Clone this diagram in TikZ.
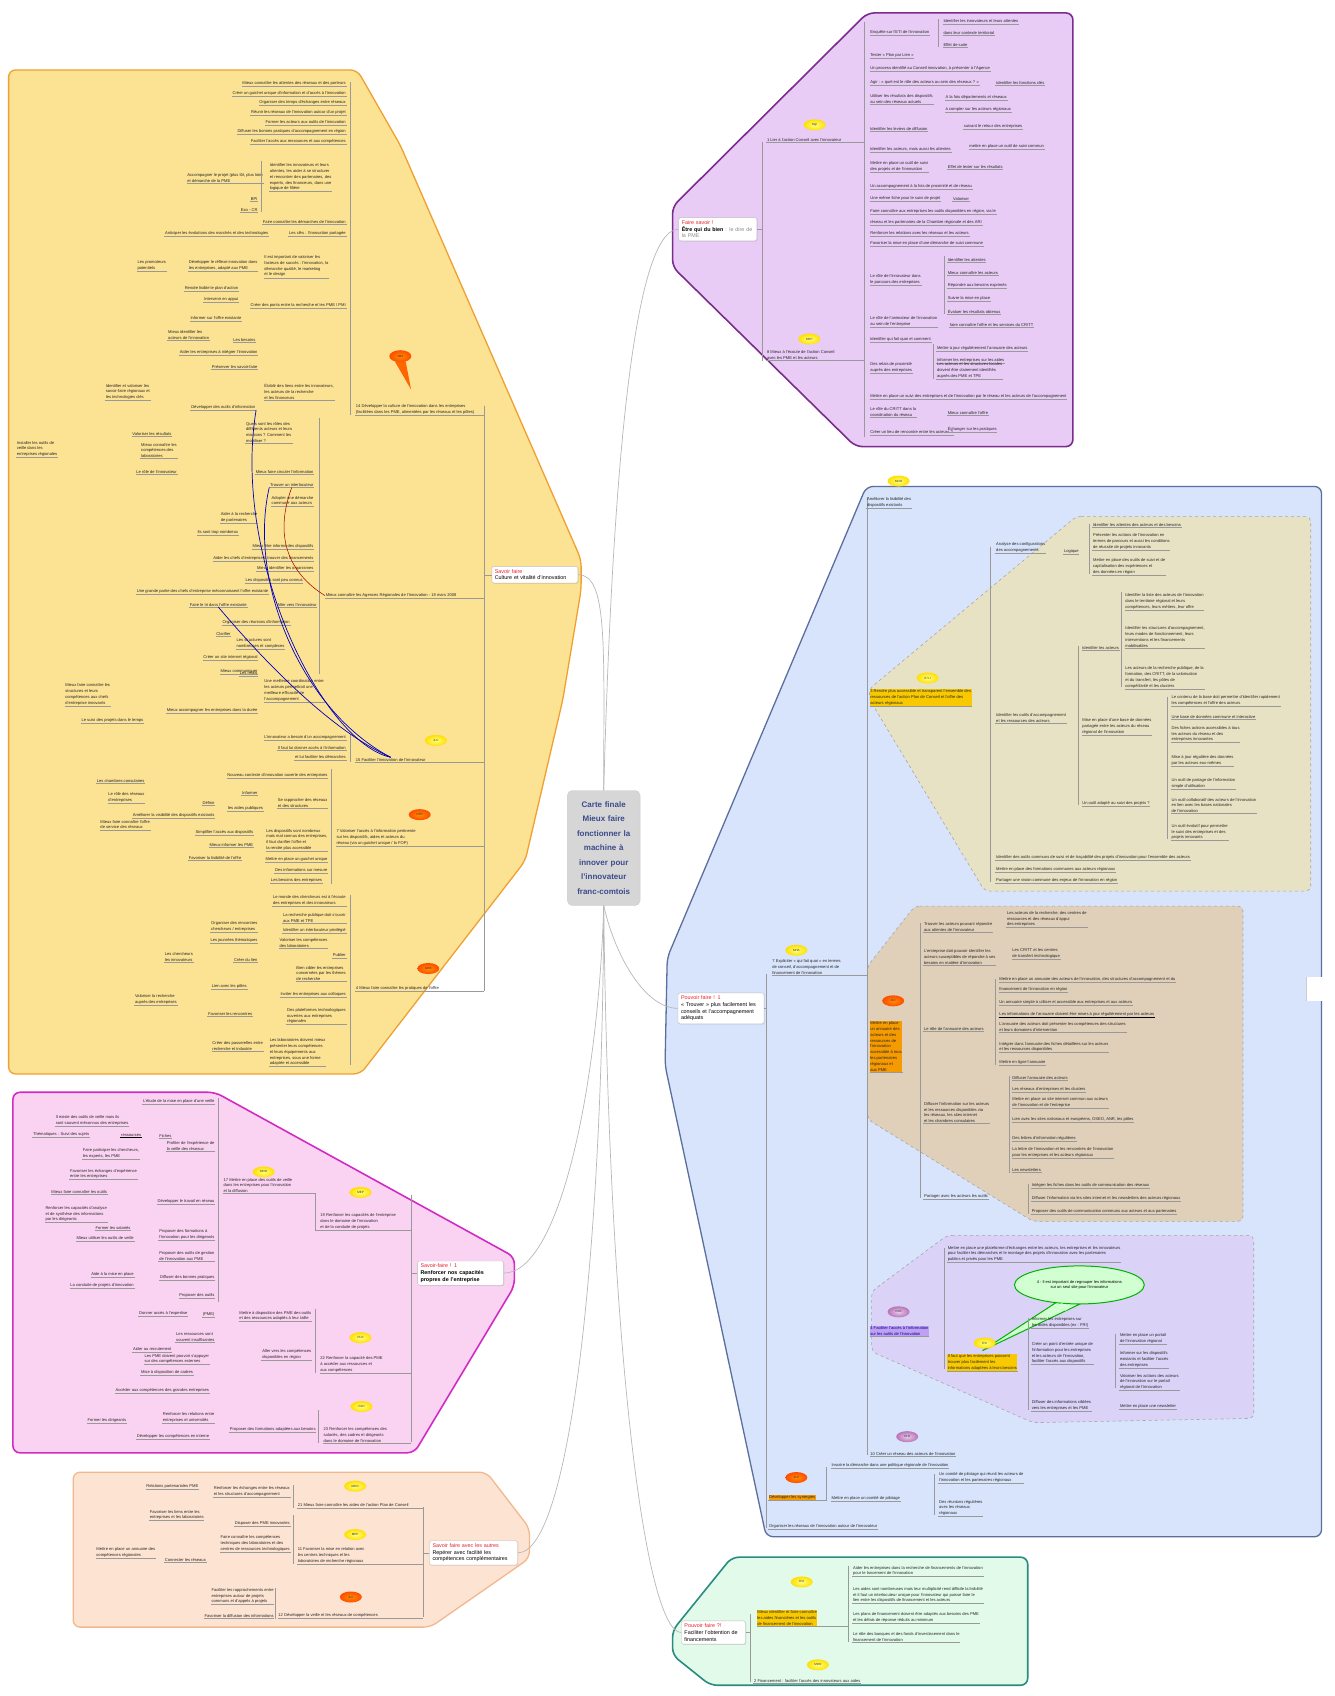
\documentclass[tikz,border=0pt]{standalone}
\usepackage{fontspec}
\setmainfont{Liberation Sans}
\usetikzlibrary{shapes.geometric,shadows}
\definecolor{yfill}{HTML}{FCE293}
\definecolor{yline}{HTML}{F0A030}
\definecolor{pfill}{HTML}{E8CCF6}
\definecolor{pline}{HTML}{7B2C8C}
\definecolor{bfill}{HTML}{D8E4FB}
\definecolor{bline}{HTML}{5B6E9E}
\definecolor{tanfill}{HTML}{E8E2C4}
\definecolor{brfill}{HTML}{E0D0BA}
\definecolor{lavfill}{HTML}{DAD2F7}
\definecolor{pkfill}{HTML}{FBD3F2}
\definecolor{pkline}{HTML}{D22BC4}
\definecolor{pcfill}{HTML}{FDE3D2}
\definecolor{pcline}{HTML}{F2B88C}
\definecolor{gfill}{HTML}{E2FAEA}
\definecolor{gline}{HTML}{2A8C80}
\definecolor{titlered}{HTML}{E8202A}
\definecolor{ctext}{HTML}{3B4B8B}
\definecolor{hlyel}{HTML}{F8C800}
\definecolor{hlora}{HTML}{F59A00}
\definecolor{hlpur}{HTML}{C0A0F0}
\newcounter{lfc}
\newcommand\lfr[4][]{\stepcounter{lfc}\node[leaf,anchor=south west,#1] (lf\arabic{lfc}) at (#2,#3) {#4};}
\newcommand\lfl[4][]{\stepcounter{lfc}\node[leaf,anchor=south east,#1] (lf\arabic{lfc}) at (#2,#3) {#4};}
\newcommand\sub[5][]{\node[leaf,anchor=south west,#1] (#2) at (#3,#4) {#5};}
\newcommand\ttl[1]{\textcolor{titlered}{#1}}
\tikzset{
  uline/.style={draw=black!40,line width=0.3pt},
  leaf/.style={font=\fontsize{4.1}{5.8}\selectfont,text=black!85,inner sep=0.6pt,align=left,
     append after command={(\tikzlastnode.south west) edge[uline] (\tikzlastnode.south east)}},
  tree/.style={draw=black!40,line width=0.3pt},
  conn/.style={draw=black!28,line width=0.7pt},
  rel/.style={draw=blue!75!black,line width=0.7pt},
  region/.style={line width=1.3pt,rounded corners=7pt},
  subreg/.style={draw=black!35,dashed,line width=0.6pt,rounded corners=5pt},
  bub/.style={ellipse,inner sep=0pt,minimum width=22,minimum height=11,font=\fontsize{3}{3}\selectfont,text=black!80},
  byel/.style={bub,inner color=yellow!50!white,outer color=yellow!75!orange},
  bora/.style={bub,inner color=orange!90!yellow,outer color=orange!60!red},
  bpur/.style={bub,inner color=violet!20,outer color=violet!55},
  mainbox/.style={draw=black!25,fill=white,rounded corners=2pt,inner sep=3pt,align=left,
     font=\fontsize{5.4}{6.6}\selectfont,text width=#1,drop shadow={opacity=0.2,shadow xshift=0.8pt,shadow yshift=-0.8pt}},
}
\begin{document}
\begin{tikzpicture}[x=1.076pt,y=-1.076pt]
\useasboundingbox (0,0) rectangle (1240,1576);
\fill[white] (0,0) rectangle (1240,1576);
% ---------- regions
\draw[region,draw=yline,fill=yfill] (8,65) -- (332,65) -- (372,135) -- (540,520) -- (540,548) -- (523,650) -- (488,800) -- (335,998) -- (8,998) -- cycle;
\draw[region,draw=pline,fill=pfill,line width=1.6pt] (806,12) -- (997,12) -- (997,415) -- (795,415) -- (625,248) -- (625,192) -- cycle;
\draw[region,draw=bline,fill=bfill] (805,452) -- (1228,452) -- (1228,1428) -- (712,1428) -- (618,990) -- (620,890) -- cycle;
\draw[subreg,fill=tanfill] (1000,480) -- (1218,480) -- (1218,828) -- (915,828) -- (808,650) -- (808,640) -- cycle;
\draw[subreg,fill=brfill] (850,842) -- (1155,842) -- (1155,1135) -- (960,1135) -- (806,1040) -- (806,898) -- cycle;
\draw[subreg,fill=lavfill] (880,1148) -- (1165,1148) -- (1165,1318) -- (960,1322) -- (810,1256) -- (810,1200) -- cycle;
\draw[region,draw=pkline,fill=pkfill,line width=1.6pt] (12,1015) -- (200,1015) -- (478,1168) -- (478,1195) -- (385,1350) -- (12,1350) -- cycle;
\draw[region,draw=pcline,fill=pcfill] (68,1368) -- (452,1368) -- (492,1420) -- (492,1448) -- (400,1512) -- (68,1512) -- cycle;
\draw[region,draw=gline,fill=gfill,line width=1.6pt] (680,1447) -- (955,1447) -- (955,1566) -- (660,1566) -- (625,1538) -- (625,1515) -- cycle;
\fill[white] (1214,908) rectangle (1240,930);
\draw[black!20] (1214,908) -- (1214,930);

% ================= YELLOW =================
\draw[tree] (450,377) -- (450,921);
\draw[tree] (325,76) -- (325,386);
\sub{s14}{330}{386}{14 Développer la culture de l'innovation dans les entreprises\\(facilitées dans les PME, alimentées par les réseaux et les pôles)}
\fill[orange!80!red] (367,336) -- (377,336) -- (382,362) -- cycle;
\node[bora,minimum width=22,minimum height=12] (b14) at (372,331) {JMA};
\lfl{322}{80}{Mieux connaître les attentes des réseaux et des porteurs}
\lfl{322}{89}{Créer un guichet unique d'information et d'accès à l'innovation}
\lfl{322}{98}{Organiser des temps d'échanges entre réseaux}
\lfl{322}{107}{Réunir les réseaux de l'innovation autour d'un projet}
\lfl{322}{116}{Former les acteurs aux outils de l'innovation}
\lfl{322}{125}{Diffuser les bonnes pratiques d'accompagnement en région}
\lfl{322}{134}{Faciliter l'accès aux ressources et aux compétences}
\lfr{250}{178}{Identifier les innovateurs et leurs\\attentes, les aider à se structurer\\et rencontrer des partenaires, des\\experts, des financeurs, dans une\\logique de filière}
\lfl{245}{170}{Accompagner le projet (plus tôt, plus loin)\\et démarche de la PME}
\draw[tree] (243,150) -- (243,197);
\lfl{240}{187}{BPI}
\lfl{240}{197}{Exo - CR}
\lfl{322}{208}{Faire connaître les démarches de l'innovation}
\lfl{250}{219}{Anticiper les évolutions des marchés et des technologies}
\lfl{322}{219}{Les clés : l'innovation partagée}
\lfr{245}{258}{Il est important de valoriser les\\facteurs de succès : l'innovation, la\\démarche qualité, le marketing\\et le design}
\lfl{240}{252}{Développer le réflexe innovation dans\\les entreprises, adapté aux PME}
\lfl{155}{252}{Les promoteurs\\potentiels}
\lfl{222}{271}{Rendre lisible le plan d'action}
\lfl{222}{281}{Intervenir en appui}
\lfl{322}{286}{Créer des ponts entre la recherche et les PME / PMI}
\lfl{225}{298}{Informer sur l'offre existante}
\lfl{195}{316}{Mieux identifier les\\acteurs de l'innovation}
\lfl{238}{318}{Les besoins}
\lfl{240}{330}{Aider les entreprises à intégrer l'innovation}
\lfl{240}{343}{Préserver les savoir-faire}
\lfr{245}{372}{Établir des liens entre les innovateurs,\\les acteurs de la recherche\\et les financeurs}
\lfl[alias=tA]{238}{381}{Développer des outils d'information}
\lfl{140}{372}{Identifier et valoriser les\\savoir-faire régionaux et\\les technologies clés}
\lfr{15}{425}{Installer les outils de\\veille dans les\\entreprises régionales}
\lfl{160}{405}{Valoriser les résultats}
\lfl{165}{426}{Mieux connaître les\\compétences des\\laboratoires}
% Agences
\draw[tree] (297,388) -- (297,626);
\sub{sAg}{302}{556}{Mieux connaître les Agences Régionales de l'Innovation - 18 mars 2008}
\draw[tree] (sAg.south east) -- (450,556);
\lfr{228}{412}{Quels sont les rôles des\\différents acteurs et leurs\\missions ? Comment les\\mobiliser ?}
\lfl{292}{441}{Mieux faire circuler l'information}
\lfl[alias=tB]{292}{453}{Trouver un interlocuteur}
\lfl{292}{470}{Adopter une démarche\\commune aux acteurs}
\lfl{165}{441}{Le rôle de l'innovateur}
\lfl{240}{486}{Aider à la recherche\\de partenaires}
\lfl{222}{497}{Ils sont trop nombreux}
\lfl{292}{510}{Mieux être informé des dispositifs}
\lfl{292}{521}{Aider les chefs d'entreprise à trouver des financements}
\lfl{292}{531}{Mieux identifier les organismes}
\lfl{282}{542}{Les dispositifs sont peu connus}
\lfl{250}{552}{Une grande partie des chefs d'entreprise méconnaissent l'offre existante}
\lfl[alias=tC]{230}{564}{Faire le tri dans l'offre existante}
\lfl{295}{564}{Aller vers l'innovateur}
\lfl{270}{581}{Organiser des réunions d'information}
\lfl{215}{591}{Clarifier}
\lfl{265}{603}{Les structures sont\\nombreuses et complexes}
\lfl{240}{613}{Créer un site internet régional}
\lfl{240}{626}{Mieux communiquer}
% 15
\sub{s15}{330}{708}{15 Faciliter l'innovation de l'innovateur}
\node[byel] (b15) at (405,688) {JLC};
\draw[tree] (325,682) -- (325,708);
\lfl{322}{688}{L'innovateur a besoin d'un accompagnement}
\lfl{322}{697}{Il faut lui donner accès à l'information}
\lfl{322}{706}{et lui faciliter les démarches}
\lfr{245}{652}{Une meilleure coordination entre\\les acteurs permettrait une\\meilleure efficacité de\\l'accompagnement}
\lfl{240}{628}{Les relais}
\lfr{60}{656}{Mieux faire connaître les\\structures et leurs\\compétences aux chefs\\d'entreprise innovants}
\lfl{240}{663}{Mieux accompagner les entreprises dans la durée}
\lfr{75}{672}{Le suivi des projets dans le temps}
% 7
\sub{s7}{312}{786}{7 Valoriser l'accès à l'information pertinente\\sur les dispositifs, aides et acteurs du\\réseau (via un guichet unique / la FOP)}
\node[bora] (b7) at (390,757) {PAR};
\draw[tree] (308,715) -- (308,821);
\lfl{305}{723}{Nouveau contexte d'innovation ouverte des entreprises}
\lfl{240}{739}{Informer}
\lfl{305}{751}{Se rapprocher des réseaux\\et des structures}
\lfl{200}{748}{Définir}
\lfl{245}{754}{les aides publiques}
\lfl{200}{760}{Améliorer la visibilité des dispositifs existants}
\lfl{305}{791}{Les dispositifs sont nombreux\\mais mal connus des entreprises,\\il faut clarifier l'offre et\\la rendre plus accessible}
\lfl{236}{776}{Simplifier l'accès aux dispositifs}
\lfl{236}{787}{Mieux informer les PME}
\lfl{225}{799}{Favoriser la lisibilité de l'offre}
\lfl{305}{801}{Mettre en place un guichet unique}
\lfl{305}{811}{Des informations sur mesure}
\lfl{300}{821}{Les besoins des entreprises}
\lfl{135}{728}{Les chambres consulaires}
\lfl{135}{746}{Le rôle des réseaux\\d'entreprises}
\lfl{140}{771}{Mieux faire connaître l'offre\\de service des réseaux}
% 4
\sub{s4}{330}{921}{4 Mieux faire connaître les pratiques de l'offre}
\node[bora] (b4) at (398,900) {GRE};
\draw[tree] (325,832) -- (325,990);
\lfl{322}{842}{Le monde des chercheurs est à l'écoute\\des entreprises et des innovateurs}
\lfl{322}{858}{La recherche publique doit s'ouvrir\\aux PME et TPE}
\lfl{322}{867}{Identifier un interlocuteur privilégié}
\lfl{305}{881}{Valoriser les compétences\\des laboratoires}
\lfl{240}{866}{Organiser des rencontres\\chercheurs / entreprises}
\lfl{240}{876}{Les journées thématiques}
\lfl{322}{890}{Publier}
\lfl{180}{894}{Les chercheurs\\les innovateurs}
\lfl{240}{894}{Créer du lien}
\lfl{322}{912}{Bien cibler les entreprises\\concernées par les thèmes\\de recherche}
\lfl{230}{919}{Lien avec les pôles}
\lfl{322}{927}{Inviter les entreprises aux colloques}
\lfl{165}{934}{Valoriser la recherche\\auprès des entreprises}
\lfl{235}{944}{Favoriser les rencontres}
\lfl{322}{952}{Des plateformes technologiques\\ouvertes aux entreprises\\régionales}
\lfl{245}{977}{Créer des passerelles entre\\recherche et industrie}
\lfr{250}{991}{Les laboratoires doivent mieux\\présenter leurs compétences\\et leurs équipements aux\\entreprises, sous une forme\\adaptée et accessible}
\foreach \n/\y in {s14/386,s15/708,s7/786,s4/921} \draw[tree] (\n.south east) -- (450,\y);
% relation curves
\draw[rel] (s15.north) .. controls (300,690) and (215,520) .. (tA.south east);
\draw[rel] (s15.north) .. controls (280,660) and (230,540) .. (tB.south west);
\draw[rel] (s15.north) .. controls (310,680) and (250,620) .. (tC.south);
\draw[draw=red!60!black,line width=0.5pt] (tB.south) .. controls (250,510) and (280,540) .. (sAg.west);

% ================= PURPLE =================
\draw[tree] (708,132) -- (708,335);
\draw[tree] (803,20) -- (803,406);
\sub{pA}{712}{132}{1 Lier à l'action Conseil avec l'innovateur}
\node[byel] (bpA) at (757,116) {MgI};
\sub{pB}{712}{335}{8 Mieux à l'écoute de l'action Conseil\\avec les PME et les acteurs}
\node[byel] (bpB) at (752,315) {MEP};
\draw[tree] (pA.south east) -- (803,132);
\draw[tree] (pB.south east) -- (803,335);
\draw[tree] (872,18) -- (872,44);
\lfr{808}{33}{Enquête sur l'ETI de l'innovation}
\lfr{876}{22}{Identifier les innovateurs et leurs attentes}
\lfr{876}{33}{dans leur contexte territorial}
\lfr{876}{44}{Effet de suite}
\lfr{808}{54}{Tester « Plan par Lien »}
\lfr{808}{66}{Un process identifié au Conseil innovation, à présenter à l'Agence}
\lfr{808}{79}{Agir : « quel est le rôle des acteurs au sein des réseaux ? »}
\lfr{925}{79}{Identifier les fonctions clés}
\lfr{808}{97}{Utiliser les résultats des dispositifs\\au sein des réseaux actuels}
\lfr{878}{93}{A la fois départements et réseaux}
\lfr{878}{104}{à compter sur les acteurs régionaux}
\lfr{808}{122}{Identifier les leviers de diffusion}
\lfr{895}{120}{suivant le retour des entreprises}
\lfr{808}{141}{Identifier les acteurs, mais aussi les attentes}
\lfr{900}{139}{mettre en place un outil de suivi commun}
\lfr{808}{160}{Mettre en place un outil de suivi\\des projets et de l'innovation}
\lfr{880}{157}{Effet de levier sur les résultats}
\lfr{808}{176}{Un accompagnement à la fois de proximité et de réseau}
\lfr{808}{187}{Une même fiche pour le suivi de projet}
\lfr{885}{187}{Valoriser}
\lfr{808}{199}{Faire connaître aux entreprises les outils disponibles en région, via le}
\lfr{808}{209}{réseau et les partenaires de la Chambre régionale et des ARI}
\lfr{808}{219}{Renforcer les relations avec les réseaux et les acteurs}
\lfr{808}{229}{Favoriser la mise en place d'une démarche de suivi commune}
\draw[tree] (877,238) -- (877,292);
\lfr{808}{265}{Le rôle de l'innovateur dans\\le parcours des entreprises}
\lfr{880}{244}{Identifier les attentes}
\lfr{880}{256}{Mieux connaître les acteurs}
\lfr{880}{268}{Répondre aux besoins exprimés}
\lfr{880}{280}{Suivre la mise en place}
\lfr{880}{292}{Évaluer les résultats obtenus}
\lfr{808}{304}{Le rôle de l'animateur de l'innovation\\au sein de l'entreprise}
\lfr{882}{304}{faire connaître l'offre et les services du CRITT}
\lfr{808}{318}{Identifier qui fait quoi et comment}
\draw[tree] (867,320) -- (867,352);
\lfr{808}{347}{Des relais de proximité\\auprès des entreprises}
\lfr{870}{326}{Mettre à jour régulièrement l'annuaire des acteurs}
\lfr{870}{337}{Informer les entreprises sur les aides}
\lfr{870}{352}{Les acteurs et les structures locales\\doivent être clairement identifiés\\auprès des PME et TPE}
\lfr{808}{371}{Mettre en place un suivi des entreprises et de l'innovation par le réseau et les acteurs de l'accompagnement}
\lfr{808}{388}{Le rôle du CRITT dans la\\coordination du réseau}
\lfr{880}{386}{Mieux connaître l'offre}
\lfr{808}{404}{Créer un lieu de rencontre entre les acteurs ?}
\lfr{880}{402}{Échanger sur les pratiques}

% ================= BLUE =================
\draw[tree] (806,462) -- (806,1352);
\draw[tree] (712,905) -- (712,1420);
\sub{bA}{805}{472}{Améliorer la lisibilité des\\dispositifs existants}
\node[byel] (bbA) at (835,447) {MDO};
\sub{bX}{717}{906}{7 Expliciter « qui fait quoi » en termes\\de conseil, d'accompagnement et de\\financement de l'innovation}
\node[byel] (bbX) at (740,883) {MHA};
\draw[tree] (bX.south east) -- (806,906);
% tan
\sub[fill=hlyel]{bT}{808}{656}{3 Rendre plus accessible et transparent l'ensemble des\\ressources de l'action Plan de Conseil et l'offre des\\acteurs régionaux}
\node[byel] (bbT) at (862,630) {E.V.I};
\draw[tree] (920,508) -- (920,820);
\draw[tree] (1012,487) -- (1012,533);
\lfr{925}{514}{Analyse des configurations\\des accompagnements}
\lfr{988}{515}{Logique}
\lfr{1015}{490}{Identifier les attentes des acteurs et des besoins}
\lfr{1015}{511}{Présenter les actions de l'innovation en\\termes de parcours et aussi les conditions\\de réussite de projets innovants}
\lfr{1015}{534}{Mettre en place des outils de suivi et de\\capitalisation des expériences et\\des données en région}
\draw[tree] (1002,600) -- (1002,748);
\lfr{925}{672}{Identifier les outils d'accompagnement\\et les ressources des acteurs}
\lfr{1005}{604}{Identifier les acteurs}
\draw[tree] (1042,550) -- (1042,638);
\lfr{1045}{567}{Identifier la liste des acteurs de l'innovation\\dans le territoire régional et leurs\\compétences, leurs métiers, leur offre}
\lfr{1045}{602}{Identifier les structures d'accompagnement,\\leurs modes de fonctionnement, leurs\\interventions et les financements\\mobilisables}
\lfr{1045}{640}{Les acteurs de la recherche publique, de la\\formation, des CRITT, de la valorisation\\et du transfert, les pôles de\\compétitivité et les clusters}
\lfr{1005}{683}{Mise en place d'une base de données\\partagée entre les acteurs du réseau\\régional de l'innovation}
\draw[tree] (1085,648) -- (1085,780);
\lfr{1088}{656}{Le contenu de la base doit permettre d'identifier rapidement\\les compétences et l'offre des acteurs}
\lfr{1088}{668}{Une base de données commune et interactive}
\lfr{1088}{690}{Des fiches actions accessibles à tous\\les acteurs du réseau et des\\entreprises innovantes}
\lfr{1088}{712}{Mise à jour régulière des données\\par les acteurs eux-mêmes}
\lfr{1088}{733}{Un outil de partage de l'information\\simple d'utilisation}
\lfr{1088}{756}{Un outil collaboratif des acteurs de l'innovation\\en lien avec les bases nationales\\de l'innovation}
\lfr{1088}{781}{Un outil évolutif pour permettre\\le suivi des entreprises et des\\projets innovants}
\lfr{1005}{749}{Un outil adapté au suivi des projets ?}
\lfr{925}{799}{Identifier des outils communs de suivi et de traçabilité des projets d'innovation pour l'ensemble des acteurs}
\lfr{925}{810}{Mettre en place des formations communes aux acteurs régionaux}
\lfr{925}{821}{Partager une vision commune des enjeux de l'innovation en région}
% brown
\sub[fill=hlora]{bB}{808}{996}{Mettre en place\\un annuaire des\\acteurs et des\\ressources de\\l'innovation\\accessible à tous\\les partenaires\\régionaux et\\aux PME}
\node[bora] (bbB) at (830,930) {JLC};
\draw[tree] (855,858) -- (855,1113);
\lfr{858}{866}{Trouver les acteurs pouvant répondre\\aux attentes de l'innovateur}
\lfr{935}{862}{Les acteurs de la recherche, des centres de\\ressources et des réseaux d'appui\\des entreprises}
\lfr{858}{897}{L'entreprise doit pouvoir identifier les\\acteurs susceptibles de répondre à ses\\besoins en matière d'innovation}
\lfr{940}{891}{Les CRITT et les centres\\de transfert technologique}
\lfr{858}{958}{Le rôle de l'annuaire des acteurs}
\draw[tree] (925,910) -- (925,990);
\lfr{928}{913}{Mettre en place un annuaire des acteurs de l'innovation, des structures d'accompagnement et du}
\lfr{928}{922}{financement de l'innovation en région}
\lfr{928}{934}{Un annuaire simple à utiliser et accessible aux entreprises et aux acteurs}
\lfr[append after command={(\tikzlastnode.south west) edge[draw=black,line width=0.7pt] (\tikzlastnode.south east)}]{928}{945}{Les informations de l'annuaire doivent être mises à jour régulièrement par les acteurs}
\lfr{928}{959}{L'annuaire des acteurs doit présenter les compétences des structures\\et leurs domaines d'intervention}
\lfr{928}{978}{Intégrer dans l'annuaire des fiches détaillées sur les acteurs\\et les ressources disponibles}
\lfr{928}{990}{Mettre en ligne l'annuaire}
\lfr{858}{1044}{Diffuser l'information sur les acteurs\\et les ressources disponibles via\\les réseaux, les sites internet\\et les chambres consulaires}
\draw[tree] (938,1000) -- (938,1090);
\lfr{940}{1004}{Diffuser l'annuaire des acteurs}
\lfr{940}{1015}{Les réseaux d'entreprises et les clusters}
\lfr{940}{1030}{Mettre en place un site internet commun aux acteurs\\de l'innovation et de l'entreprise}
\lfr{940}{1043}{Lien avec les sites nationaux et européens, OSEO, ANR, les pôles}
\lfr{940}{1060}{Des lettres d'information régulières}
\lfr{940}{1076}{La lettre de l'innovation et les rencontres de l'innovation\\pour les entreprises et les acteurs régionaux}
\lfr{940}{1089}{Les newsletters}
\lfr{858}{1114}{Partager avec les acteurs les outils}
\draw[tree] (955,1100) -- (955,1128);
\lfr{958}{1104}{Intégrer les fiches dans les outils de communication des réseaux}
\lfr{958}{1116}{Diffuser l'information via les sites internet et les newsletters des acteurs régionaux}
\lfr{958}{1128}{Proposer des outils de communication communs aux acteurs et aux partenaires}
% lavender
\sub[fill=hlpur,text=blue!60!black]{bL}{808}{1242}{4 Faciliter l'accès à l'information\\sur les outils de l'innovation}
\node[bpur] (bbL) at (835,1219) {DLB};
\draw[tree] (877,1160) -- (877,1272);
\lfr{880}{1173}{Mettre en place une plateforme d'échanges entre les acteurs, les entreprises et les innovateurs\\pour faciliter les démarches et le montage des projets d'innovation avec les partenaires\\publics et privés pour les PME}
\draw[draw=green!70!black,fill=green!18,line width=1pt] (985,1208) -- (913,1255) -- (1003,1212) -- cycle;
\node[ellipse,draw=green!70!black,fill=green!18,line width=1pt,minimum width=120pt,minimum height=38pt,align=center,font=\fontsize{4}{5}\selectfont] (gc) at (1003,1194) {4 - Il est important de regrouper les informations\\sur un seul site pour l'innovateur};
\fill[green!18] (986,1211) -- (996,1214) -- (990,1218) -- cycle;
\sub[fill=hlyel]{bY}{880}{1274}{Il faut que les entreprises puissent\\trouver plus facilement les\\informations adaptées à leurs besoins}
\node[byel] (bbY) at (915,1248) {EVI};
\draw[tree] (955,1225) -- (955,1310);
\lfr{958}{1234}{Informer les entreprises sur\\les aides disponibles (ex : FRI)}
\lfr{958}{1268}{Créer un point d'entrée unique de\\l'information pour les entreprises\\et les acteurs de l'innovation,\\faciliter l'accès aux dispositifs}
\draw[tree] (1036,1240) -- (1036,1290);
\lfr{1040}{1249}{Mettre en place un portail\\de l'innovation régional}
\lfr{1040}{1271}{Informer sur les dispositifs\\existants et faciliter l'accès\\des entreprises}
\lfr{1040}{1292}{Valoriser les actions des acteurs\\de l'innovation sur le portail\\régional de l'innovation}
\lfr{958}{1311}{Diffuser des informations ciblées\\vers les entreprises et les PME}
\lfr{1040}{1309}{Mettre en place une newsletter}
% 10
\sub{b10}{808}{1353}{10 Créer un réseau des acteurs de l'innovation}
\node[bpur] (bb10) at (843,1335) {DLB};
% orange
\sub[fill=hlora]{bO}{714}{1394}{Développer les synergies}
\node[bora] (bbO) at (740,1373) {JLC};
\draw[tree] (768,1363) -- (768,1395);
\draw[tree] (bO.south east) -- (768,1394);
\lfr{772}{1364}{Inscrire la démarche dans une politique régionale de l'innovation}
\lfr{772}{1395}{Mettre en place un comité de pilotage}
\draw[tree] (868,1370) -- (868,1408);
\lfr{872}{1378}{Un comité de pilotage qui réunit les acteurs de\\l'innovation et les partenaires régionaux}
\lfr{872}{1409}{Des réunions régulières\\avec les réseaux\\régionaux}
\sub{bZ}{714}{1421}{Organiser les réseaux de l'innovation autour de l'innovateur}

% ================= PINK =================
\draw[tree] (382,1110) -- (382,1340);
\sub{k19}{297}{1143}{19 Renforcer les capacités de l'entreprise\\dans le domaine de l'innovation\\et de la conduite de projets}
\node[byel] (bk19) at (335,1108) {MEP};
\sub{k17}{207}{1109}{17 Mettre en place des outils de veille\\dans les entreprises pour l'innovation\\et la diffusion}
\node[byel] (bk17) at (245,1089) {MDO};
\draw[tree] (k17.south east) -- (293,1109) -- (293,1143) -- (k19.south west);
\sub{k22}{297}{1276}{22 Renforcer la capacité des PME\\à accéder aux ressources et\\aux compétences}
\node[byel] (bk22) at (335,1243) {PLD};
\sub{k23}{300}{1341}{23 Renforcer les compétences des\\salariés, des cadres et dirigeants\\dans le domaine de l'innovation}
\node[byel] (bk23) at (336,1307) {DLH};
\foreach \n/\y in {k19/1143,k22/1276,k23/1341} \draw[tree] (\n.south east) -- (382,\y);
\draw[tree] (203,1020) -- (203,1210);
\lfl{200}{1026}{L'étude de la mise en place d'une veille}
\lfl{120}{1046}{Il existe des outils de veille mais ils\\sont souvent méconnus des entreprises}
\lfr{30}{1057}{Thématiques : Suivi des sujets}
\lfl[append after command={(\tikzlastnode.south west) edge[draw=black,line width=0.8pt] (\tikzlastnode.south east)}]{132}{1057}{ressources}
\lfl{160}{1058}{Fiches}
\lfl{200}{1070}{Profiter de l'expérience de\\la veille des réseaux}
\lfl{130}{1077}{Faire participer les chercheurs,\\les experts, les PME}
\lfl{128}{1096}{Favoriser les échanges d'expérience\\entre les entreprises}
\lfl{200}{1119}{Développer le travail en réseau}
\lfl{100}{1110}{Mieux faire connaître les outils}
\lfl{100}{1136}{Renforcer les capacités d'analyse\\et de synthèse des informations\\par les dirigeants}
\lfl{122}{1143}{Former les salariés}
\lfl{125}{1153}{Mieux utiliser les outils de veille}
\lfl{200}{1152}{Proposer des formations à\\l'innovation pour les dirigeants}
\lfl{200}{1172}{Proposer des outils de gestion\\de l'innovation aux PME}
\lfl{125}{1187}{Aide à la mise en place}
\lfl{125}{1197}{La conduite de projets d'innovation}
\lfl{200}{1190}{Diffuser des bonnes pratiques}
\lfl{200}{1206}{Proposer des outils}
\draw[tree] (293,1216) -- (293,1276);
\lfl{290}{1228}{Mettre à disposition des PME des outils\\et des ressources adaptés à leur taille}
\lfl{175}{1223}{Donner accès à l'expertise}
\lfl{200}{1224}{(PME)}
\lfl{200}{1247}{Les ressources sont\\souvent insuffisantes}
\lfl{160}{1256}{Aider au recrutement}
\lfl{290}{1264}{Aller vers les compétences\\disponibles en région}
\lfl{195}{1268}{Les PME doivent pouvoir s'appuyer\\sur des compétences externes}
\lfl{180}{1278}{Mise à disposition de cadres}
\lfl{195}{1295}{Accéder aux compétences des grandes entreprises}
\draw[tree] (296,1310) -- (296,1341);
\lfl{200}{1322}{Renforcer les relations entre\\entreprises et universités}
\lfl{118}{1322}{Former les dirigeants}
\lfl{294}{1331}{Proposer des formations adaptées aux besoins}
\lfl{195}{1337}{Développer les compétences en interne}

% ================= PEACH =================
\draw[tree] (393,1400) -- (393,1503);
\sub{cA}{276}{1401}{21 Mieux faire connaître les aides de l'action Plan de Conseil}
\node[byel] (bcA) at (330,1381) {MDO};
\sub{cB}{276}{1453}{11 Favoriser la mise en relation avec\\les centres techniques et les\\laboratoires de recherche régionaux}
\node[byel] (bcB) at (330,1426) {MEP};
\sub{cC}{258}{1504}{12 Développer la veille et les réseaux de compétences}
\node[bora] (bcC) at (326,1484) {JLC};
\foreach \n/\y in {cA/1401,cB/1453,cC/1504} \draw[tree] (\n.south east) -- (393,\y);
\draw[tree] (272,1380) -- (272,1401);
\lfl{270}{1391}{Renforcer les échanges entre les réseaux\\et les structures d'accompagnement}
\lfl{185}{1384}{Relations partenariales PME}
\draw[tree] (272,1408) -- (272,1453);
\lfl{190}{1413}{Favoriser les liens entre les\\entreprises et les laboratoires}
\lfl{270}{1418}{Disposer des PME innovantes}
\lfl{270}{1442}{Faire connaître les compétences\\techniques des laboratoires et des\\centres de ressources technologiques}
\lfl{145}{1448}{Mettre en place un annuaire des\\compétences régionales}
\lfl{192}{1452}{Connecter les réseaux}
\draw[tree] (256,1476) -- (256,1504);
\lfl{255}{1491}{Faciliter les rapprochements entre\\entreprises autour de projets\\communs et d'appels à projets}
\lfl{255}{1504}{Favoriser la diffusion des informations}

% ================= GREEN =================
\draw[tree] (697,1500) -- (697,1563);
\sub[fill=hlyel]{gA}{703}{1511}{Mieux identifier et faire connaître\\les aides financières et les outils\\de financement de l'innovation}
\node[byel] (bgA) at (745,1470) {EVI};
\sub{gB}{700}{1564}{2 Financement : faciliter l'accès des innovateurs aux aides}
\node[byel] (bgB) at (760,1547) {MDO};
\draw[tree] (788,1455) -- (788,1526);
\draw[tree] (gA.south east) -- (788,1511);
\lfr{792}{1465}{Aider les entreprises dans la recherche de financements de l'innovation\\pour le lancement de l'innovation}
\lfr{792}{1490}{Les aides sont nombreuses mais leur multiplicité rend difficile la lisibilité\\et il faut un interlocuteur unique pour l'innovateur qui puisse faire le\\lien entre les dispositifs de financement et les acteurs}
\lfr{792}{1508}{Les plans de financement doivent être adaptés aux besoins des PME\\et les délais de réponse réduits au minimum}
\lfr{792}{1526}{Le rôle des banques et des fonds d'investissement dans le\\financement de l'innovation}

% ================= MAIN NODES =================
\node[draw=black!20,fill=black!16,rounded corners=5pt,text width=66pt,align=center,minimum height=115pt,
  font=\fontsize{8}{14.5}\selectfont\bfseries,text=ctext] (c) at (561,788)
  {Carte finale\\Mieux faire\\fonctionner la\\machine à\\innover pour\\l'innovateur\\franc-comtois};
\node[mainbox=80pt] (ym) at (497,534) {\ttl{Savoir faire}\\Culture et vitalité d'innovation};
\node[mainbox=72pt] (pm) at (667,213) {\ttl{Faire savoir !}\\\textbf{Être qui du bien} \textcolor{black!45}{: le dire de}\\\textcolor{black!45}{la PME}};
\node[mainbox=80pt] (bm) at (670,937) {\ttl{Pouvoir faire ! 1}\\« Trouver » plus facilement les\\conseils et l'accompagnement\\adéquats};
\node[mainbox=80pt] (pkm) at (428,1183) {\ttl{Savoir-faire ! 1}\\\textbf{Renforcer nos capacités}\\\textbf{propres de l'entreprise}};
\node[mainbox=82pt] (pcm) at (440,1443) {\ttl{Savoir faire avec les autres}\\Repérer avec facilité les\\compétences complémentaires};
\node[mainbox=58pt] (gm) at (663,1517) {\ttl{Pouvoir faire ?!}\\Faciliter l'obtention de\\financements};
% trunk links
\draw[tree] (ym.west) -- (450,534);
\draw[tree] (pm.east) -- (708,213);
\draw[tree] (bm.east) -- (712,937);
\draw[tree] (pkm.west) -- (382,1183);
\draw[tree] (pcm.west) -- (393,1443);
\draw[tree] (gm.east) -- (697,1517);
% ================= CONNECTORS =================
\draw[conn] (c.north) .. controls (561,600) and (565,534) .. (ym.east);
\draw[conn] (c.north) .. controls (568,480) and (585,213) .. (pm.west);
\draw[conn] (c.south) .. controls (572,890) and (600,937) .. (bm.west);
\draw[conn] (c.south) .. controls (556,1010) and (520,1183) .. (pkm.east);
\draw[conn] (c.south) .. controls (560,1160) and (530,1443) .. (pcm.east);
\draw[conn] (c.south) .. controls (566,1260) and (600,1517) .. (gm.west);
\end{tikzpicture}
\end{document}
